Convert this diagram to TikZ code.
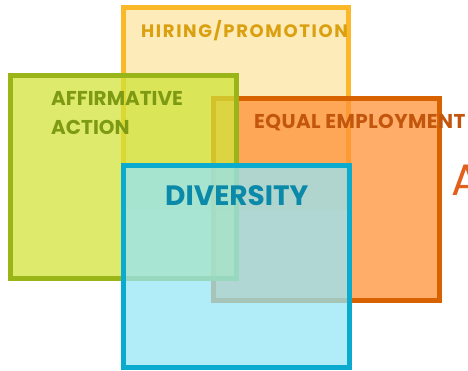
\documentclass[tikz,border=0pt]{standalone}
\usepackage{fontspec}
\setmainfont{Poppins}

\definecolor{hiringline}{HTML}{FBB829}
\definecolor{hiringfill}{HTML}{FDE4A1}
\definecolor{hiringtext}{HTML}{DAA010}
\definecolor{affirmline}{HTML}{9AB518}
\definecolor{affirmfill}{HTML}{D1E339}
\definecolor{affirmtext}{HTML}{7E9A12}
\definecolor{equalline}{HTML}{D96200}
\definecolor{equalfill}{HTML}{FF9137}
\definecolor{equaltext}{HTML}{C2560C}
\definecolor{diversline}{HTML}{0BAACF}
\definecolor{diversfill}{HTML}{97E5F7}
\definecolor{diverstext}{HTML}{0A89A9}
\definecolor{slidetext}{HTML}{E0601C}

\begin{document}
\begin{tikzpicture}[
    x=1pt,y=-1pt,
    areabox/.style={line width=5pt,fill opacity=0.75},
    boxtext/.style={anchor=base west,inner sep=0pt,font=\bfseries\fontsize{20}{24}\selectfont}
  ]

  \useasboundingbox (0,0) rectangle (468,370);

  % hiring / promotion
  \fill[hiringfill,fill opacity=0.75] (123.5,7.5) rectangle (348.5,209.5);
  \draw[hiringline,line width=5pt] (123.5,209.5) -- (123.5,7.5) -- (348.5,7.5) -- (348.5,209.5);
  \node[boxtext,hiringtext,font=\bfseries\fontsize{18}{22}\selectfont\addfontfeature{LetterSpace=9}] (hiring) at (141,37.5) {HIRING/PROMOTION};

  % equal employment
  \draw[areabox,equalline,fill=equalfill] (213.5,98.5) rectangle (439.5,300.5);
  \node[boxtext,equaltext,font=\bfseries\fontsize{20}{24}\selectfont\addfontfeature{LetterSpace=2}] (equal) at (254,128.5) {EQUAL EMPLOYMENT};

  % affirmative action
  \draw[areabox,affirmline,fill=affirmfill] (10.5,75.8) rectangle (236.5,278.5);
  \node[boxtext,affirmtext] (affirm) at (51,105) {AFFIRMATIVE};
  \node[boxtext,affirmtext] (action) at (51,134.5) {ACTION};

  % diversity
  \draw[areabox,diversline,fill=diversfill] (123.5,165.5) rectangle (349,367);
  \node[boxtext,diverstext,font=\bfseries\fontsize{28}{34}\selectfont] (diversity) at (165,205) {DIVERSITY};

  \node[anchor=base west,inner sep=0pt,slidetext,font=\fontsize{44}{50}\selectfont] (slide) at (451,195) {A};

\end{tikzpicture}
\end{document}
